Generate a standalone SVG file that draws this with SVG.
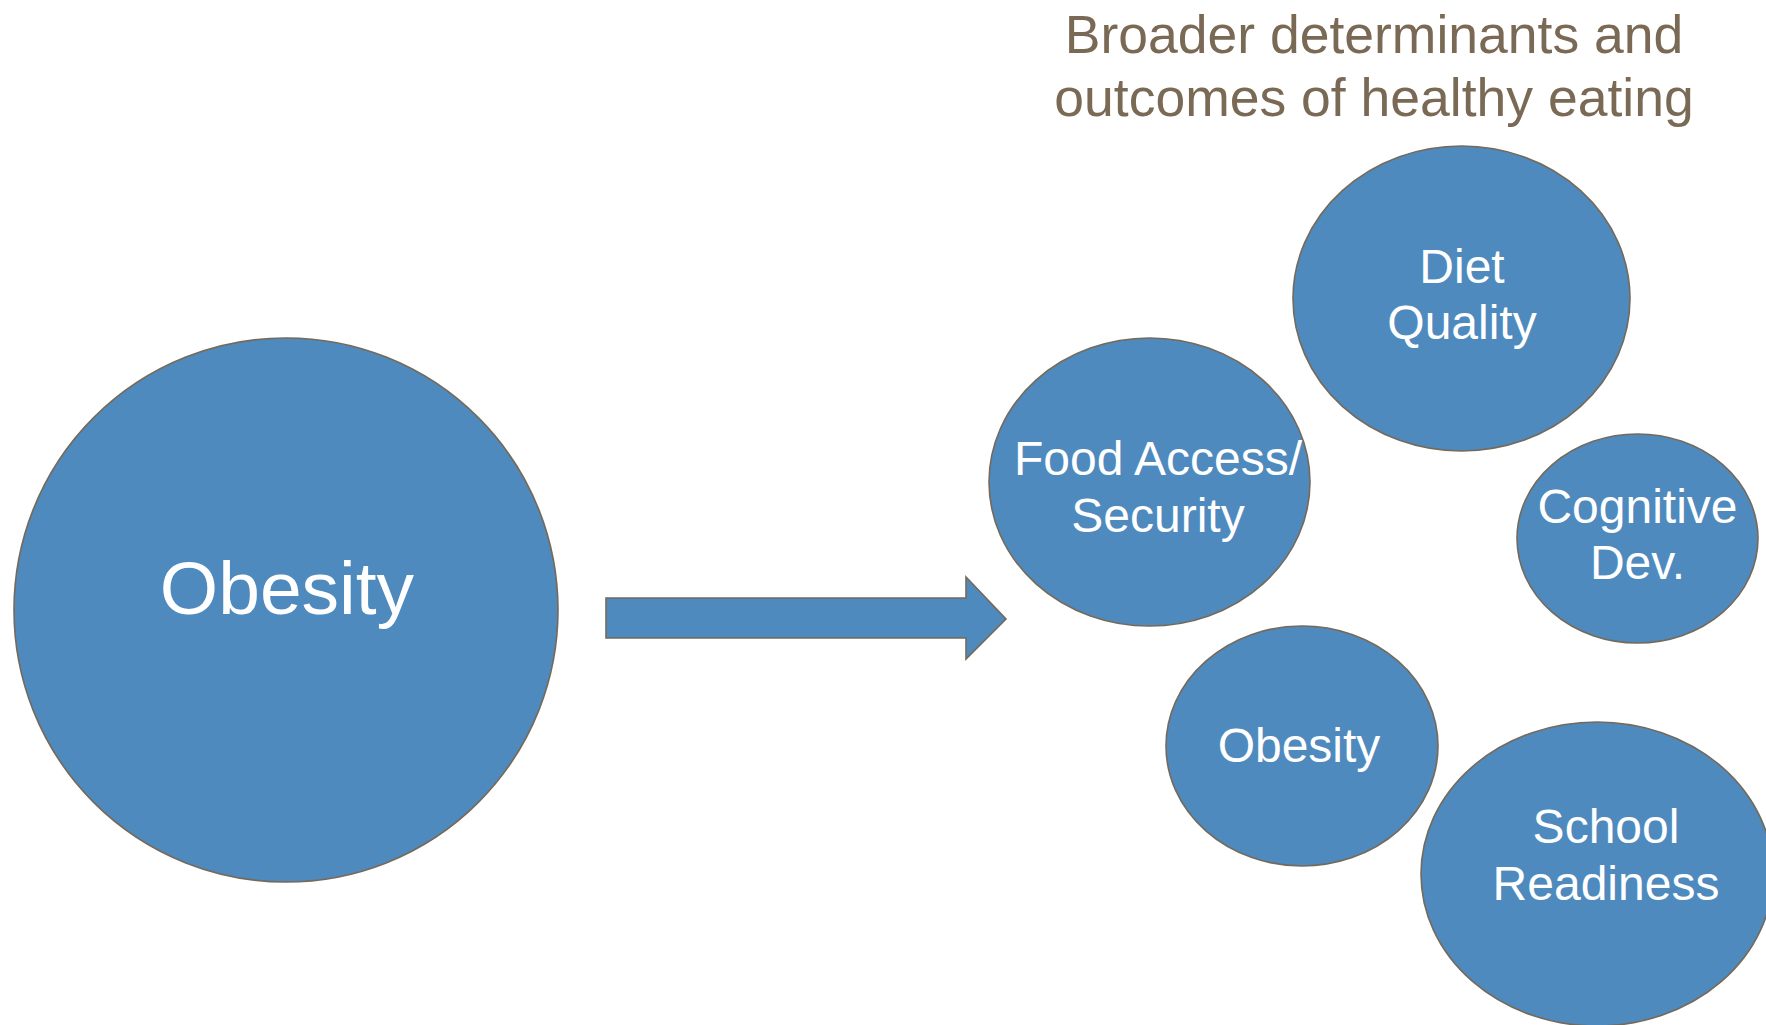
<svg xmlns="http://www.w3.org/2000/svg" width="1766" height="1025" viewBox="0 0 1766 1025">
<style>
.n{fill:#4e8abe;stroke:#75695a;stroke-width:1.6}
.t{font-family:"Liberation Sans",Arial,sans-serif;fill:#ffffff;text-anchor:middle;font-size:48px}
.big{font-size:75px}
.h{font-family:"Liberation Sans",Arial,sans-serif;fill:#7a6a55;text-anchor:middle;font-size:53.5px}
</style>
<rect width="1766" height="1025" fill="#ffffff"/>
<g id="title">
<text class="h" x="1374" y="53">Broader determinants and</text>
<text class="h" x="1374" y="116">outcomes of healthy eating</text>
</g>
<g id="connectors">
<path class="n" d="M606,598 H966 V577 L1006,619 L966,659 V638 H606 Z"/>
</g>
<g id="node-obesity-main">
<circle class="n" cx="286" cy="610" r="272"/>
<text class="t big" x="287" y="614">Obesity</text>
</g>
<g id="node-food">
<ellipse class="n" cx="1149.5" cy="482" rx="160.5" ry="144"/>
<text class="t" x="1158" y="475">Food Access/</text>
<text class="t" x="1158" y="532">Security</text>
</g>
<g id="node-diet">
<ellipse class="n" cx="1461.5" cy="298.5" rx="168.5" ry="152.5"/>
<text class="t" x="1462" y="283">Diet</text>
<text class="t" x="1462" y="339">Quality</text>
</g>
<g id="node-cognitive">
<ellipse class="n" cx="1637.5" cy="538.5" rx="120.5" ry="104.5"/>
<text class="t" x="1637.5" y="523">Cognitive</text>
<text class="t" x="1637.5" y="579">Dev.</text>
</g>
<g id="node-obesity">
<ellipse class="n" cx="1302" cy="746" rx="136" ry="120"/>
<text class="t" x="1299" y="762">Obesity</text>
</g>
<g id="node-school">
<ellipse class="n" cx="1597" cy="874" rx="176" ry="152"/>
<text class="t" x="1606" y="843">School</text>
<text class="t" x="1606" y="900">Readiness</text>
</g>
</svg>
